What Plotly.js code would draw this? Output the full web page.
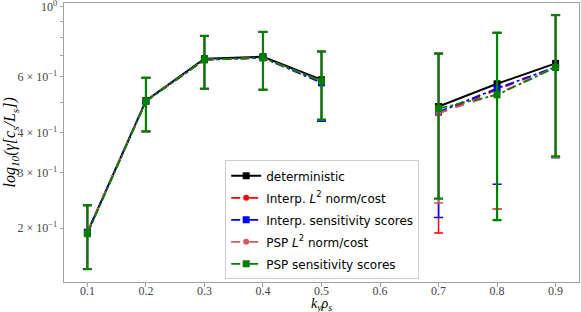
<!DOCTYPE html>
<html><head><meta charset="utf-8">
<script src="https://cdn.plot.ly/plotly-3.0.1.min.js"></script>
<style>html,body{margin:0;padding:0;background:#fff}#plot{width:581px;height:312px}</style>
</head><body><div id="plot"></div>
<script>
const kx = [0.1,0.2,0.3,0.4,0.5,0.6,0.7,0.8,0.9];
const detY = [0.194,0.505,0.685,0.695,0.588,null,0.484,0.571,0.662];

const interpL2Y  = [0.194,0.503,0.680,0.690,0.580,null,0.460,0.547,0.645];
const interpL2Hi = [0.236,0.597,0.809,0.833,0.722,null,0.711,0.828,0.940];
const interpL2Lo = [0.1485,0.404,0.551,0.547,0.437,null,0.193,0.230,0.334];

const interpSensY  = [0.194,0.503,0.680,0.690,0.575,null,0.465,0.552,0.645];
const interpSensHi = [0.236,0.597,0.809,0.833,0.722,null,0.711,0.828,0.940];
const interpSensLo = [0.1485,0.404,0.551,0.547,0.435,null,0.216,0.275,0.334];

const pspL2Y  = [0.194,0.503,0.680,0.690,0.582,null,0.462,0.530,0.645];
const pspL2Hi = [0.236,0.597,0.809,0.833,0.724,null,0.713,0.828,0.940];
const pspL2Lo = [0.1485,0.404,0.551,0.547,0.440,null,0.240,0.230,0.334];

const pspSensY  = [0.192,0.503,0.680,0.690,0.582,null,0.477,0.527,0.643];
const pspSensHi = [0.236,0.597,0.809,0.833,0.722,null,0.711,0.828,0.940];
const pspSensLo = [0.1485,0.404,0.551,0.547,0.440,null,0.248,0.212,0.337];

const yTickVals = [0.2,0.3,0.4,0.5,0.6,0.7,0.8,0.9,1.0];
const yTickText = ['2 × 10<sup>−1</sup>','3 × 10<sup>−1</sup>','4 × 10<sup>−1</sup>','','6 × 10<sup>−1</sup>','','','','10<sup>0</sup>'];
const xTickVals = [0.1,0.2,0.3,0.4,0.5,0.6,0.7,0.8,0.9];

function errs(y, hi, lo) {
  return {
    type:'data', symmetric:false,
    array: y.map((v,i)=> v===null?null:hi[i]-v),
    arrayminus: y.map((v,i)=> v===null?null:v-lo[i]),
  };
}
function series(name, y, hi, lo, color, dash, symbol, msize, ethick) {
  const e = errs(y, hi, lo);
  e.color = color; e.thickness = ethick; e.width = 4.5;
  return {x:kx, y:y, name:name, legendgroup:name, mode:'lines+markers', type:'scatter', connectgaps:false,
    line:{color:color, dash:dash, width:1.8}, marker:{color:color, symbol:symbol, size:msize},
    error_y:e};
}

const traces = [
  {x:kx, y:detY, name:'deterministic', legendgroup:'det', mode:'lines+markers', type:'scatter', connectgaps:false,
   line:{color:'black', width:2}, marker:{color:'black', symbol:'square', size:7}},
  series('Interp. <i>L</i><sup>2</sup> norm/cost', interpL2Y, interpL2Hi, interpL2Lo, '#ff0000', 'dash', 'circle', 6, 1.5),
  series('Interp. sensitivity scores', interpSensY, interpSensHi, interpSensLo, '#0000ff', 'dashdot', 'square', 7, 1.5),
  series('PSP <i>L</i><sup>2</sup> norm/cost', pspL2Y, pspL2Hi, pspL2Lo, '#cd5c5c', 'dash', 'circle', 6, 1.5),
  series('PSP sensitivity scores', pspSensY, pspSensHi, pspSensLo, '#008000', 'dashdot', 'square', 7, 2.2),
];

const serif = 'Liberation Serif, DejaVu Serif, serif';
const layout = {
  width:581, height:312,
  margin:{l:64, r:2, t:3, b:30},
  paper_bgcolor:'#fff', plot_bgcolor:'#fff',
  showlegend:true,
  legend:{x:0.313, y:0.436, xanchor:'left', yanchor:'top', bgcolor:'rgba(255,255,255,0.85)',
    tracegroupgap:3,
    bordercolor:'#cccccc', borderwidth:1, font:{family:'DejaVu Sans, sans-serif', size:12, color:'#000'}},
  xaxis:{range:[0.06,0.94], tickvals:xTickVals, ticktext:xTickVals.map(v=>v.toFixed(1)),
    showgrid:false, zeroline:false, showline:true, mirror:true, linecolor:'#a0a0a0', linewidth:1,
    ticks:'', ticklabelstandoff:-2, tickfont:{family:serif, size:12, color:'#444'},
    minor:{tickmode:'array', tickvals:xTickVals, ticks:'outside', ticklen:3.5, tickcolor:'#a0a0a0', showgrid:false}},
  yaxis:{type:'log', range:[-0.869, 0.0116], tickvals:yTickVals, ticktext:yTickText,
    ticklabeloverflow:'allow',
    showgrid:false, zeroline:false, showline:true, mirror:true, linecolor:'#a0a0a0', linewidth:1,
    ticks:'outside', ticklen:3.5, tickcolor:'#a0a0a0', tickfont:{family:serif, size:12, color:'#444'}},
  annotations:[
    {text:'<i>k<sub>y</sub>ρ<sub>s</sub></i>', xref:'paper', yref:'paper', x:0.5, y:-0.079, xanchor:'center', yanchor:'middle',
     showarrow:false, font:{family:serif, size:14, color:'#000'}},
    {text:'<i>log<sub>10</sub>(γ[c<sub>s</sub>/L<sub>s</sub>])</i>', xref:'paper', yref:'paper', x:-0.103, y:0.5,
     xanchor:'center', yanchor:'middle', textangle:-90, showarrow:false, font:{family:serif, size:16, color:'#000'}}
  ]
};
Plotly.newPlot('plot', traces, layout, {displayModeBar:false, staticPlot:true});
</script></body></html>
